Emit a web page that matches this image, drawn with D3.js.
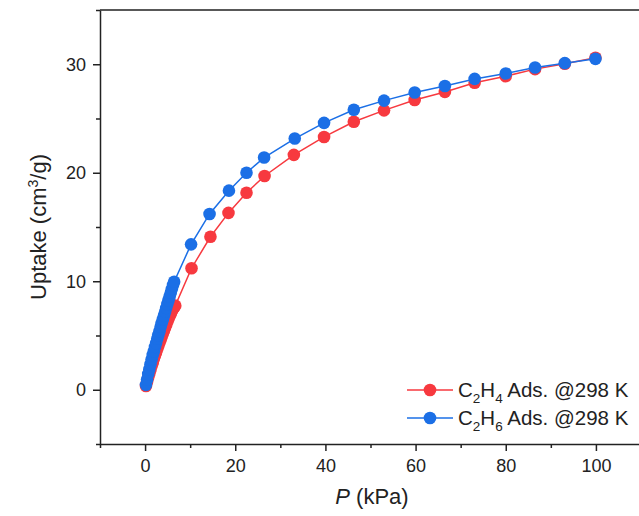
<!DOCTYPE html>
<html>
<head>
<meta charset="utf-8">
<script src="https://cdn.jsdelivr.net/npm/d3@7"></script>
<style>
  body { margin: 0; background: #fff; }
  svg { font-family: "Liberation Sans", Arial, sans-serif; }
</style>
</head>
<body>
<svg id="chart" width="639" height="516"></svg>
<script>
// C2H4 adsorption @298 K
const c2h4P = [0.2, 0.45, 0.7, 0.95, 1.2, 1.45, 1.7, 1.95, 2.2, 2.45, 2.7, 2.95, 3.2, 3.45, 3.7, 3.95, 4.2, 4.45, 4.7, 4.95, 5.2, 5.45, 5.7, 5.95, 6.2, 6.45, 6.7,
    10.3, 14.5, 18.5, 22.5, 26.5, 33.0, 39.7, 46.3, 53.0, 59.8, 66.5, 73.1, 80.0, 86.5, 93.1, 99.9];
const c2h4U = [0.35, 0.75, 1.15, 1.5, 1.85, 2.2, 2.5, 2.85, 3.15, 3.45, 3.75, 4.05, 4.35, 4.6, 4.9, 5.2, 5.45, 5.75, 6.0, 6.3, 6.55, 6.8, 7.0, 7.25, 7.45, 7.6, 7.75,
    11.2, 14.1, 16.3, 18.15, 19.7, 21.65, 23.3, 24.7, 25.75, 26.7, 27.45, 28.3, 28.9, 29.55, 30.05, 30.6];

// C2H6 adsorption @298 K
const c2h6P = [0.2, 0.45, 0.7, 0.95, 1.2, 1.45, 1.7, 1.95, 2.2, 2.45, 2.7, 2.95, 3.2, 3.45, 3.7, 3.95, 4.2, 4.45, 4.7, 4.95, 5.2, 5.45, 5.7, 5.95, 6.2, 6.45,
    10.2, 14.3, 18.6, 22.5, 26.4, 33.2, 39.7, 46.3, 53.0, 59.8, 66.5, 73.1, 80.0, 86.5, 93.1, 99.9];
const c2h6U = [0.45, 0.95, 1.45, 1.9, 2.35, 2.8, 3.2, 3.55, 3.95, 4.3, 4.7, 5.05, 5.4, 5.8, 6.15, 6.5, 6.85, 7.2, 7.55, 7.9, 8.25, 8.6, 8.95, 9.3, 9.65, 9.95,
    13.4, 16.2, 18.35, 20.0, 21.4, 23.15, 24.6, 25.8, 26.65, 27.4, 28.0, 28.65, 29.15, 29.7, 30.1, 30.5];

const xTicks = [0, 20, 40, 60, 80, 100];
const xMinor = [-10, 10, 30, 50, 70, 90, 110];
const yTicks = [0, 10, 20, 30];
const yMinor = [-5, 5, 15, 25, 35];

const series = [
    {name: "C2H4", sub: "4", P: c2h4P, U: c2h4U, color: "#f7393f"},
    {name: "C2H6", sub: "6", P: c2h6P, U: c2h6U, color: "#1b6fe6"}
];

const margin = {top: 10, left: 100},
    width = 541, height = 434;

const svg = d3.select("#chart");
const g = svg.append("g").attr("transform", `translate(${margin.left},${margin.top})`);

const x = d3.scaleLinear().domain([-10, 110]).range([0, width]);
const y = d3.scaleLinear().domain([-5, 35]).range([height, 0]);

// frame top / right
g.append("path")
    .attr("d", `M0,0 H${width} V${height}`)
    .attr("fill", "none")
    .attr("stroke", "#222")
    .attr("stroke-width", 1.5);

const styleAxis = sel => {
    sel.selectAll(".domain").attr("stroke", "#222").attr("stroke-width", 1.5);
    sel.selectAll(".tick line").attr("stroke", "#222").attr("stroke-width", 1.5);
    sel.selectAll(".tick text").attr("fill", "#222").attr("font-size", 18);
};

g.append("g").attr("transform", `translate(0,${height})`)
    .call(d3.axisBottom(x).tickValues(xMinor).tickSize(4).tickFormat(""))
    .call(s => s.select(".domain").remove())
    .call(styleAxis);
g.append("g").attr("transform", `translate(0,${height})`)
    .call(d3.axisBottom(x).tickValues(xTicks).tickSize(7).tickPadding(8).tickSizeOuter(0))
    .call(styleAxis);

g.append("g")
    .call(d3.axisLeft(y).tickValues(yMinor).tickSize(4).tickFormat(""))
    .call(s => s.select(".domain").remove())
    .call(styleAxis);
g.append("g")
    .call(d3.axisLeft(y).tickValues(yTicks).tickSize(7).tickPadding(7).tickSizeOuter(0))
    .call(styleAxis);

const line = d3.line().x(d => x(d[0])).y(d => y(d[1]));

series.forEach(s => {
    const pts = s.P.map((p, i) => [p, s.U[i]]);
    const sg = g.append("g");
    sg.append("path").datum(pts)
        .attr("d", line)
        .attr("fill", "none")
        .attr("stroke", s.color)
        .attr("stroke-width", 1.5);
    sg.selectAll("circle").data(pts).join("circle")
        .attr("cx", d => x(d[0]))
        .attr("cy", d => y(d[1]))
        .attr("r", 6.3)
        .attr("fill", s.color);
});

// axis titles
const yt = svg.append("text")
    .attr("transform", "translate(46,227) rotate(-90)")
    .attr("text-anchor", "middle")
    .attr("font-size", 22)
    .attr("fill", "#222");
yt.append("tspan").text("Uptake (cm");
yt.append("tspan").attr("font-size", 14).attr("dy", -8).text("3");
yt.append("tspan").attr("dy", 8).text("/g)");

const xt = svg.append("text")
    .attr("x", 372).attr("y", 504)
    .attr("text-anchor", "middle")
    .attr("font-size", 22)
    .attr("fill", "#222");
xt.append("tspan").attr("font-style", "italic").text("P");
xt.append("tspan").text(" (kPa)");

// legend
const lg = svg.append("g").attr("transform", "translate(407,390)");
series.forEach((s, i) => {
    const row = lg.append("g").attr("transform", `translate(0,${i * 28})`);
    row.append("line").attr("x1", 0).attr("x2", 46)
        .attr("stroke", s.color).attr("stroke-width", 1.5);
    row.append("circle").attr("cx", 23).attr("r", 6.3).attr("fill", s.color);
    const t = row.append("text").attr("x", 51).attr("y", 7)
        .attr("font-size", 20.5).attr("fill", "#222");
    t.append("tspan").text("C");
    t.append("tspan").attr("font-size", 13.5).attr("dy", 6).text("2");
    t.append("tspan").attr("dy", -6).text("H");
    t.append("tspan").attr("font-size", 13.5).attr("dy", 6).text(s.sub);
    t.append("tspan").attr("dy", -6).text(" Ads. @298 K");
});
</script>
</body>
</html>
